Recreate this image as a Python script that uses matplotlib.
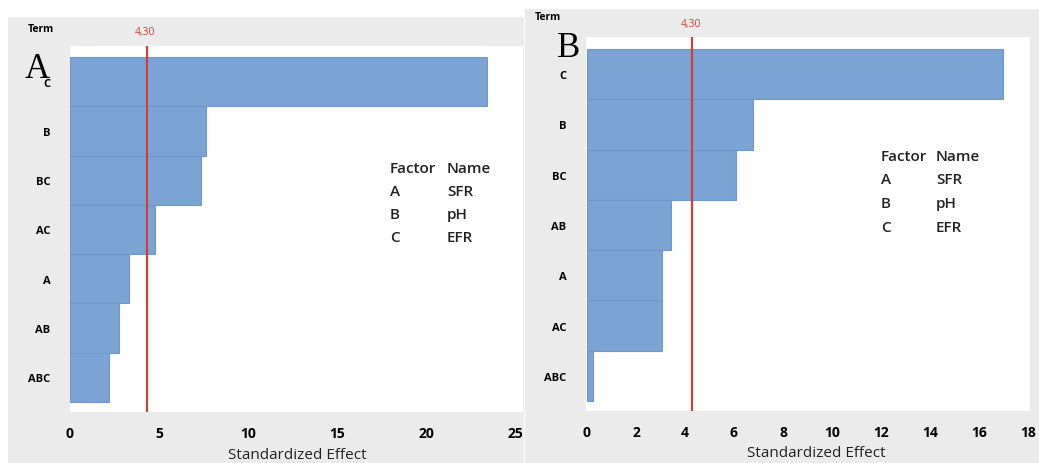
import matplotlib.pyplot as plt
import matplotlib.patches as patches

# Panel A data (top to bottom)
terms_a = ["C", "B", "BC", "AC", "A", "AB", "ABC"]
effects_a = [23.4, 7.64, 7.36, 4.78, 3.31, 2.73, 2.17]
ticks_a = [0, 5, 10, 15, 20, 25]

# Panel B data (top to bottom)
terms_b = ["C", "B", "BC", "AB", "A", "AC", "ABC"]
effects_b = [16.98, 6.76, 6.07, 3.44, 3.07, 3.06, 0.25]
ticks_b = [0, 2, 4, 6, 8, 10, 12, 14, 16, 18]

critical = 4.30
critical_label = "4,30"
factors = ["A", "B", "C"]
factor_names = ["SFR", "pH", "EFR"]

bg_gray = "#ebebeb"
bar_color = "#7ba4d5"
bar_edge = "#7097cb"
red = "#c8443a"
font = "Open Sans"

W, H = 1039, 464
fig = plt.figure(figsize=(W / 100, H / 100), dpi=100)
fig.patch.set_facecolor("white")


def px_rect(x0, y0, x1, y1):
    # pixel box (top-left origin) -> figure fraction [l, b, w, h]
    return [x0 / W, 1 - y1 / H, (x1 - x0) / W, (y1 - y0) / H]


# gray panel backgrounds
for x0, y0, x1, y1 in [(8, 18, 524, 464), (525, 10, 1039, 464)]:
    l, b, w, h = px_rect(x0, y0, x1, y1)
    fig.patches.append(patches.Rectangle((l, b), w, h, transform=fig.transFigure,
                                         facecolor=bg_gray, edgecolor="none", zorder=-5))


def pareto(rect, terms, effects, ticks, xlim, ylim, legend_xy, name_dx):
    ax = fig.add_axes(rect)
    ax.set_facecolor("white")
    ypos = list(range(len(terms)))
    ax.barh(ypos, effects, height=1.0, color=bar_color, edgecolor=bar_edge,
            linewidth=0.8, zorder=2)
    ax.axvline(critical, color=red, lw=1.6, zorder=3)
    ax.set_xlim(*xlim)
    ax.set_ylim(*ylim)
    ax.set_yticks(ypos)
    ax.set_yticklabels(terms, fontsize=8, fontweight="bold", family=font)
    ax.set_xticks(ticks)
    ax.set_xticklabels([str(t) for t in ticks], fontsize=10, fontweight="bold",
                       family=font)
    ax.tick_params(axis="y", length=0, pad=14)
    ax.tick_params(axis="x", length=0, pad=10)
    for s in ax.spines.values():
        s.set_visible(False)
    lx, ly = legend_xy
    step = 0.063
    kw = dict(transform=ax.transAxes, fontsize=11, family=font,
              fontweight="semibold", va="center", ha="left", color="#222222")
    ax.text(lx, ly, "Factor", **kw)
    ax.text(lx + name_dx, ly, "Name", **kw)
    for i, (f, n) in enumerate(zip(factors, factor_names)):
        yy = ly - step * (i + 1)
        ax.text(lx, yy, f, **kw)
        ax.text(lx + name_dx, yy, n, **kw)
    return ax


ax_a = pareto(px_rect(70, 47, 523, 413), terms_a, effects_a, ticks_a,
              (0, 25.45), (6.7, -0.72), (0.706, 0.667), 0.126)
ax_b = pareto(px_rect(586, 38, 1030, 412), terms_b, effects_b, ticks_b,
              (-0.04, 18.08), (6.7, -0.74), (0.664, 0.682), 0.124)


def ftext(x, y, s, **kw):
    fig.text(x / W, 1 - y / H, s, **kw)


# critical value labels
ftext(145, 33, critical_label, color=red, fontsize=7.5, family=font,
      ha="center", va="center")
ftext(691, 25, critical_label, color=red, fontsize=7.5, family=font,
      ha="center", va="center")

# Term headers
ftext(41, 29, "Term", fontsize=7.5, fontweight="bold", family=font,
      ha="center", va="center")
ftext(548, 18, "Term", fontsize=7.5, fontweight="bold", family=font,
      ha="center", va="center")

# axis titles
ftext(297, 456, "Standardized Effect", fontsize=11, family=font,
      ha="center", va="center", color="#222222")
ftext(816, 454, "Standardized Effect", fontsize=11, family=font,
      ha="center", va="center", color="#222222")

# panel letters
ftext(25, 78, "A", fontsize=25, family="Liberation Serif", ha="left",
      va="baseline")
ftext(557, 57, "B", fontsize=25, family="Liberation Serif", ha="left",
      va="baseline")

fig.savefig("out.png", dpi=100, facecolor="white")
